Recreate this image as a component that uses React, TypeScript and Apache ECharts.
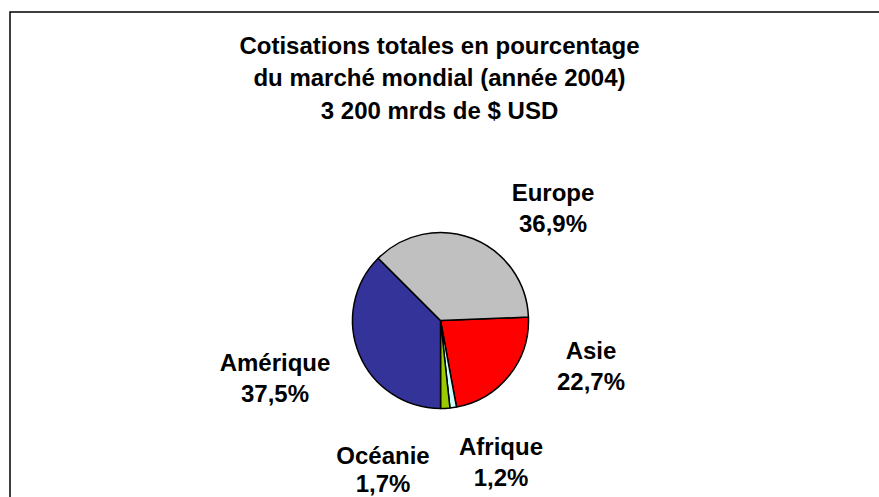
import React, { useEffect, useRef } from "react";
import * as echarts from "echarts";

const TITLE_LINES = [
  "Cotisations totales en pourcentage",
  "du marché mondial (année 2004)",
  "3 200 mrds de $ USD",
];
const REGIONS = ["Asie", "Afrique", "Océanie", "Amérique", "Europe"];
const SHARES = [22.7, 1.2, 1.7, 37.5, 36.9];
const COLORS = ["#FF0000", "#CCFFFF", "#99CC00", "#333399", "#C0C0C0"];
// label block centres (layout only)
const LABEL_POS: [number, number][] = [
  [591, 366],
  [501, 462],
  [383, 469],
  [275, 378],
  [553, 208],
];
const LABEL_LINE_HEIGHT = [31, 31, 28, 31, 31];

const FONT = "'Liberation Sans', Arial, sans-serif";

export default function App() {
  const ref = useRef<HTMLDivElement>(null);
  useEffect(() => {
    if (!ref.current) return;
    const chart = echarts.init(ref.current, null, { renderer: "svg" });
    chart.setOption({
      animation: false,
      backgroundColor: "#ffffff",
      title: {
        text: TITLE_LINES.join("\n"),
        left: "center",
        top: 24,
        textStyle: {
          fontFamily: FONT,
          fontSize: 24,
          fontWeight: "bold",
          color: "#000",
          lineHeight: 32.5,
        },
      },
      graphic: [
        {
          type: "rect",
          shape: { x: 10, y: 12, width: 900, height: 600 },
          style: { fill: "none", stroke: "#000", lineWidth: 1.5 },
          silent: true,
        },
      ],
      series: [
        {
          type: "pie",
          center: [440.5, 320.5],
          radius: 88,
          startAngle: 2.2,
          clockwise: true,
          avoidLabelOverlap: false,
          itemStyle: { borderColor: "#000", borderWidth: 1.5 },
          label: {
            show: true,
            position: "outside",
            fontFamily: FONT,
            fontSize: 24,
            fontWeight: "bold",
            color: "#000",
            lineHeight: 31,
            align: "center",
            formatter: (p: any) =>
              p.name + "\n" + Number(p.value).toFixed(1).replace(".", ",") + "%",
          },
          labelLine: { show: false },
          labelLayout: (p: any) => {
            const pos = LABEL_POS[p.dataIndex];
            return {
              x: pos[0],
              y: pos[1],
              align: "center",
              verticalAlign: "middle",
              hideOverlap: false,
            };
          },
          emphasis: { disabled: true },
          data: REGIONS.map((name, i) => ({
            name,
            value: SHARES[i],
            itemStyle: { color: COLORS[i] },
            label: { lineHeight: LABEL_LINE_HEIGHT[i] },
          })),
        },
      ],
    });
    return () => chart.dispose();
  }, []);
  return (
    <div
      ref={ref}
      style={{ position: "fixed", left: 0, top: 0, width: 879, height: 497 }}
    />
  );
}
